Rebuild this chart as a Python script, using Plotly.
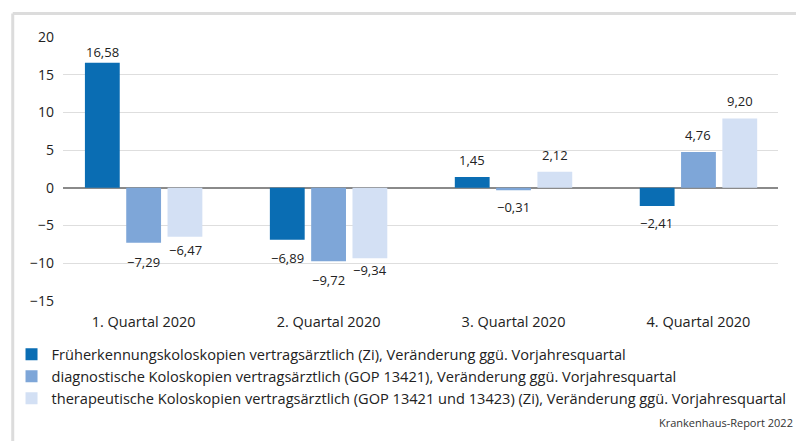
import plotly.graph_objects as go

categories = ["1. Quartal 2020", "2. Quartal 2020", "3. Quartal 2020", "4. Quartal 2020"]
series_names = [
    "Früherkennungskoloskopien vertragsärztlich (Zi), Veränderung ggü. Vorjahresquartal",
    "diagnostische Koloskopien vertragsärztlich (GOP 13421), Veränderung ggü. Vorjahresquartal",
    "therapeutische Koloskopien vertragsärztlich (GOP 13421 und 13423) (Zi), Veränderung ggü. Vorjahresquartal",
]
frueherkennung = [16.58, -6.89, 1.45, -2.41]
diagnostisch = [-7.29, -9.72, -0.31, 4.76]
therapeutisch = [-6.47, -9.34, 2.12, 9.20]
y_ticks = [-15, -10, -5, 0, 5, 10, 15, 20]
source_text = "Krankenhaus-Report 2022"

series_values = [frueherkennung, diagnostisch, therapeutisch]
colors = ["#0a6db3", "#7ea6d8", "#d3e0f4"]
FONT = "Open Sans, Noto Sans, sans-serif"
TXT = "#222222"

# label vertical distance (px) from bar end; overrides for staggered labels
default_shift = 17
shift_override = {(0, 0): 11, (2, 0): 13, (2, 1): 11.5, (1, 0): 19, (0, 1): 18, (1, 1): 19}
group_step_px = 41.5

fig = go.Figure()
for i, (name, vals) in enumerate(zip(series_names, series_values)):
    fig.add_trace(go.Bar(
        x=categories, y=vals, name=name, marker_color=colors[i],
        marker_line_width=0, legendgroup=f"g{i}",
    ))

def fmt(v):
    s = f"{abs(v):.2f}".replace(".", ",")
    return ("\u2212" + s) if v < 0 else s

annotations = []
for i, vals in enumerate(series_values):
    for j, v in enumerate(vals):
        sh = shift_override.get((i, j), default_shift)
        annotations.append(dict(
            x=categories[j], y=v, xref="x", yref="y", text=fmt(v), showarrow=False,
            xshift=(i - 1) * group_step_px, yshift=sh if v >= 0 else -sh,
            font=dict(family=FONT, size=13, color=TXT),
            xanchor="center", yanchor="middle",
        ))

annotations.append(dict(
    x=1.0237, y=-0.462, xref="paper", yref="paper", text=source_text, showarrow=False,
    xanchor="right", yanchor="middle", font=dict(family=FONT, size=11, color="#333333"),
))

shapes = [
    dict(type="line", xref="paper", yref="paper", x0=-0.0703, x1=1.06, y0=1.089, y1=1.089,
         line=dict(color="#dcdcdc", width=3)),
    dict(type="line", xref="paper", yref="paper", x0=-0.0703, x1=-0.0703, y0=1.089, y1=-0.6,
         line=dict(color="#dcdcdc", width=3)),
]

fig.update_layout(
    width=796, height=441,
    margin=dict(l=60, r=18, t=37, b=140),
    paper_bgcolor="white", plot_bgcolor="white",
    barmode="group", bargap=0.33, bargroupgap=0.157,
    font=dict(family=FONT, size=14, color=TXT),
    showlegend=True,
    legend=dict(
        x=-0.072, y=-0.141, xanchor="left", yanchor="top", orientation="v",
        font=dict(family=FONT, size=14.6, color=TXT),
        tracegroupgap=2.5, bgcolor="rgba(0,0,0,0)", traceorder="normal",
    ),
    xaxis=dict(
        range=[-0.436, 3.43], showgrid=False, zeroline=False, showline=False,
        ticks="", tickfont=dict(size=14.5, color=TXT), ticklabelstandoff=10,
    ),
    yaxis=dict(
        range=[-15, 20], tickvals=y_ticks,
        ticktext=[("\u2212" + str(abs(t))) if t < 0 else str(t) for t in y_ticks],
        showgrid=True, gridcolor="#dedede", gridwidth=1,
        zeroline=True, zerolinecolor="#8a8a8a", zerolinewidth=1.5,
        showline=False, ticks="", tickfont=dict(size=14, color=TXT), ticklabelstandoff=8,
    ),
    annotations=annotations, shapes=shapes,
)

fig.write_html(
    "out.html",
    config={"displayModeBar": False},
    post_script="document.body.style.margin='0';document.body.style.padding='0';",
)
